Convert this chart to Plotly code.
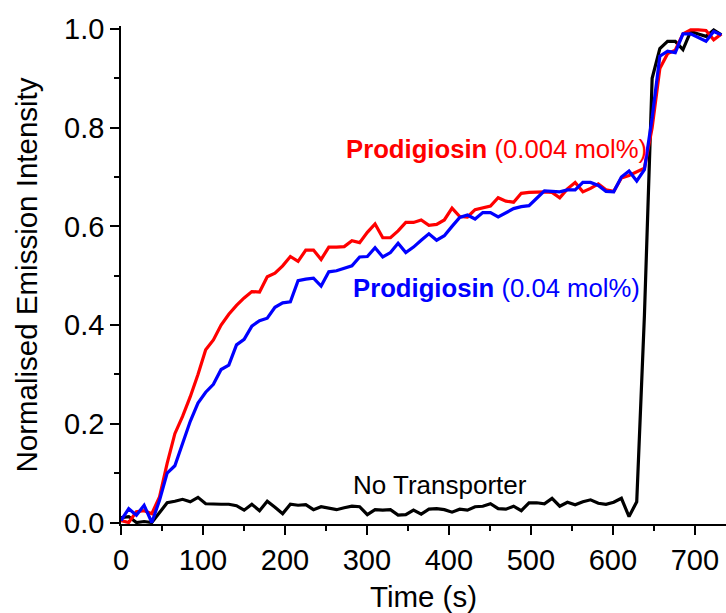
import plotly.graph_objects as go

# sampling interval (s) and time grid
time_s = [round(9.39 * k, 1) for k in range(79)]

red_0004 = [0.004, 0.0, 0.022, 0.024, 0.018, 0.052, 0.12, 0.18, 0.215, 0.255,
            0.30, 0.35, 0.37, 0.40, 0.422, 0.44, 0.455, 0.468, 0.467, 0.498,
            0.505, 0.52, 0.539, 0.529, 0.552, 0.552, 0.533, 0.558, 0.558, 0.559,
            0.571, 0.567, 0.588, 0.605, 0.577, 0.577, 0.591, 0.608, 0.608, 0.613,
            0.602, 0.604, 0.613, 0.637, 0.620, 0.619, 0.634, 0.638, 0.641, 0.658,
            0.651, 0.649, 0.667, 0.669, 0.670, 0.670, 0.669, 0.658, 0.676, 0.689,
            0.670, 0.677, 0.686, 0.674, 0.671, 0.698, 0.703, 0.711, 0.718, 0.80,
            0.92, 0.95, 0.957, 0.99, 0.998, 0.998, 0.997, 0.978, 0.99]

blue_004 = [0.004, 0.028, 0.015, 0.035, 0.0, 0.045, 0.10, 0.115, 0.16, 0.205,
            0.242, 0.264, 0.28, 0.31, 0.319, 0.36, 0.371, 0.398, 0.409, 0.414,
            0.436, 0.445, 0.447, 0.49, 0.493, 0.495, 0.479, 0.508, 0.51, 0.515,
            0.52, 0.538, 0.539, 0.557, 0.538, 0.547, 0.566, 0.547, 0.558, 0.572,
            0.585, 0.572, 0.581, 0.60, 0.618, 0.623, 0.615, 0.628, 0.628, 0.619,
            0.628, 0.636, 0.64, 0.642, 0.657, 0.672, 0.671, 0.670, 0.674, 0.674,
            0.689, 0.689, 0.683, 0.671, 0.670, 0.700, 0.712, 0.692, 0.715, 0.82,
            0.945, 0.955, 0.952, 0.99, 0.99, 0.982, 0.975, 0.995, 0.988]

black_none = [0.01, 0.012, 0.0, 0.002, 0.0, 0.021, 0.040, 0.043, 0.047, 0.042,
              0.051, 0.038, 0.037, 0.037, 0.037, 0.034, 0.025, 0.037, 0.024, 0.043,
              0.031, 0.018, 0.037, 0.035, 0.036, 0.026, 0.032, 0.029, 0.026, 0.030,
              0.033, 0.032, 0.016, 0.026, 0.025, 0.026, 0.015, 0.016, 0.025, 0.017,
              0.027, 0.028, 0.026, 0.021, 0.027, 0.025, 0.032, 0.033, 0.038, 0.028,
              0.027, 0.033, 0.024, 0.040, 0.040, 0.038, 0.049, 0.033, 0.041, 0.036,
              0.042, 0.046, 0.039, 0.037, 0.041, 0.049, 0.012, 0.042, 0.42, 0.90,
              0.96, 0.975, 0.975, 0.958, 0.995, 0.99, 0.985, 0.998, 0.988]

FONT = "Arial, Liberation Sans, sans-serif"

fig = go.Figure()
for ys, col in [(black_none, "#000000"), (red_0004, "#ff0000"), (blue_004, "#0000ff")]:
    fig.add_trace(go.Scatter(x=time_s, y=ys, mode="lines",
                             line=dict(color=col, width=3.2), showlegend=False))

fig.add_annotation(x=272, y=0.757, xref="x", yref="y", xanchor="left", yanchor="middle",
                   text="<b>Prodigiosin</b> (0.004 mol%)", showarrow=False,
                   font=dict(family=FONT, size=25.7, color="#ff0000"))
fig.add_annotation(x=281, y=0.475, xref="x", yref="y", xanchor="left", yanchor="middle",
                   text="<b>Prodigiosin</b> (0.04 mol%)", showarrow=False,
                   font=dict(family=FONT, size=25.7, color="#0000ff"))
fig.add_annotation(x=280, y=0.076, xref="x", yref="y", xanchor="left", yanchor="middle",
                   text="No Transporter", showarrow=False,
                   font=dict(family=FONT, size=26, color="#000000"))

axis_common = dict(showline=True, linecolor="black", linewidth=1.5, ticks="outside",
                   ticklen=9, tickwidth=1.5, tickcolor="black", showgrid=False,
                   zeroline=False, tickfont=dict(family=FONT, size=29, color="black"),
                   mirror=False)

fig.update_xaxes(range=[0, 738], dtick=100, tick0=0,
                 minor=dict(ticks="outside", ticklen=5, tickwidth=1.5, tickcolor="black", dtick=50),
                 title=dict(text="Time (s)", font=dict(family=FONT, size=29.5, color="black"), standoff=14),
                 **axis_common)
fig.update_yaxes(range=[-0.003, 1.006], dtick=0.2, tick0=0, tickformat=".1f",
                 minor=dict(ticks="outside", ticklen=5, tickwidth=1.5, tickcolor="black", dtick=0.1),
                 title=dict(text="Normalised Emission Intensity", font=dict(family=FONT, size=29.5, color="black"), standoff=18),
                 **axis_common)

fig.update_layout(width=726, height=613, margin=dict(l=121, r=0, t=26, b=89),
                  plot_bgcolor="white", paper_bgcolor="white",
                  font=dict(family=FONT, color="black"))

fig.write_html("out.html")
